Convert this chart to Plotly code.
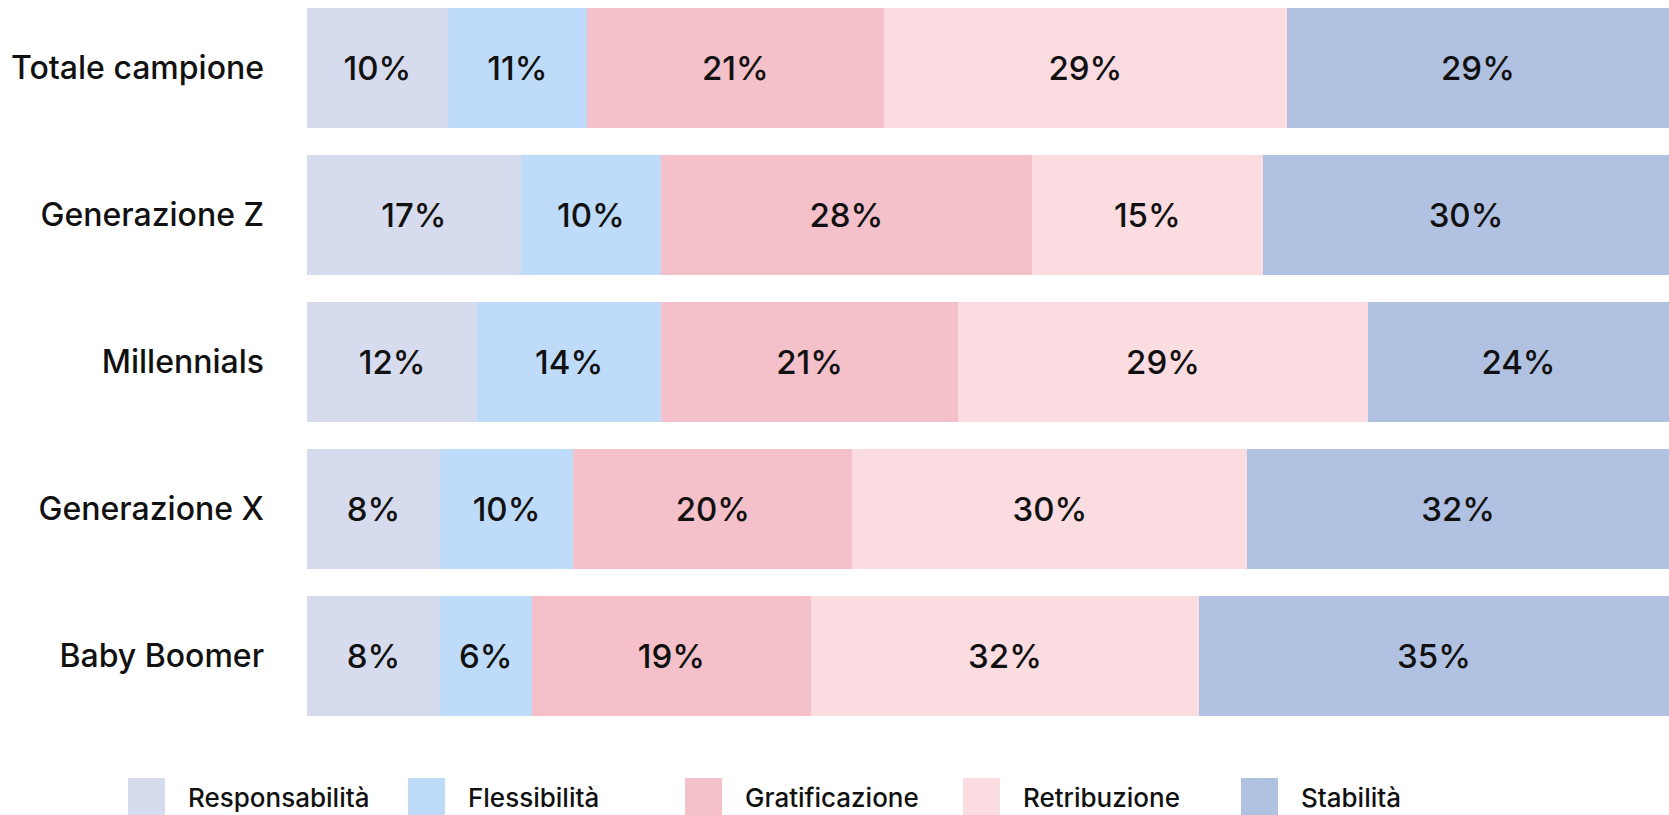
import plotly.graph_objects as go

categories = ["Totale campione", "Generazione Z", "Millennials", "Generazione X", "Baby Boomer"]
series_names = ["Responsabilità", "Flessibilità", "Gratificazione", "Retribuzione", "Stabilità"]
colors = ["#D6DCEE", "#BEDBF9", "#F4C0C9", "#FADCE1", "#B0C1E1"]

# segment widths as drawn (share of the bar, %)
responsabilita = [10.35, 15.7, 12.5, 9.75, 9.75]
flessibilita = [10.2, 10.3, 13.5, 9.8, 6.75]
gratificazione = [21.8, 27.2, 21.8, 20.5, 20.5]
retribuzione = [29.6, 17.0, 30.1, 29.0, 28.5]
stabilita = [28.05, 29.8, 22.1, 30.95, 34.5]

# printed labels
lab_responsabilita = ["10%", "17%", "12%", "8%", "8%"]
lab_flessibilita = ["11%", "10%", "14%", "10%", "6%"]
lab_gratificazione = ["21%", "28%", "21%", "20%", "19%"]
lab_retribuzione = ["29%", "15%", "29%", "30%", "32%"]
lab_stabilita = ["29%", "30%", "24%", "32%", "35%"]

values = [responsabilita, flessibilita, gratificazione, retribuzione, stabilita]
labels = [lab_responsabilita, lab_flessibilita, lab_gratificazione, lab_retribuzione, lab_stabilita]

FONT = "Inter"
W, H = 1669, 815
ML, MR, MT, MB = 307, 0, 0, 90
PW, PH = W - ML - MR, H - MT - MB

fig = go.Figure()
for name, col, vals, labs in zip(series_names, colors, values, labels):
    fig.add_trace(go.Bar(
        y=categories, x=vals, name=name, orientation="h",
        marker=dict(color=col, line=dict(width=0)),
        text=labs, textposition="inside", insidetextanchor="middle",
        textfont=dict(family=FONT, size=33, color="#111111", weight=500),
        constraintext="none", showlegend=False, hoverinfo="skip",
    ))

# custom legend (large swatches)
sw_x = [128, 408, 685, 963, 1241]
for i, (name, col) in enumerate(zip(series_names, colors)):
    x0 = sw_x[i]
    fig.add_shape(type="rect", xref="paper", yref="paper",
                  x0=(x0 - ML) / PW, x1=(x0 + 37 - ML) / PW,
                  y0=(PH - 820) / PH, y1=(PH - 778) / PH,
                  fillcolor=col, line=dict(width=0), layer="above")
    fig.add_annotation(text=name, xref="paper", yref="paper",
                       x=(x0 + 58 - ML) / PW, y=(PH - 797) / PH,
                       xanchor="left", yanchor="middle", showarrow=False,
                       font=dict(family=FONT, size=26, color="#111111", weight=500))

fig.update_layout(
    barmode="stack", bargap=0.19,
    width=W, height=H,
    margin=dict(l=ML, r=MR, t=MT, b=MB, autoexpand=False),
    paper_bgcolor="white", plot_bgcolor="white",
    xaxis=dict(range=[0, 100], visible=False, fixedrange=True),
    yaxis=dict(type="category", categoryarray=categories, categoryorder="array",
               range=[4.4694, -0.4626], showgrid=False, zeroline=False, showline=False,
               ticks="", ticklabelstandoff=42, fixedrange=True,
               tickfont=dict(family=FONT, size=32, color="#111111", weight=500)),
)

fig.write_html("out.html", config={"displayModeBar": False},
               post_script="document.body.style.margin='0';document.body.style.overflow='hidden';")
